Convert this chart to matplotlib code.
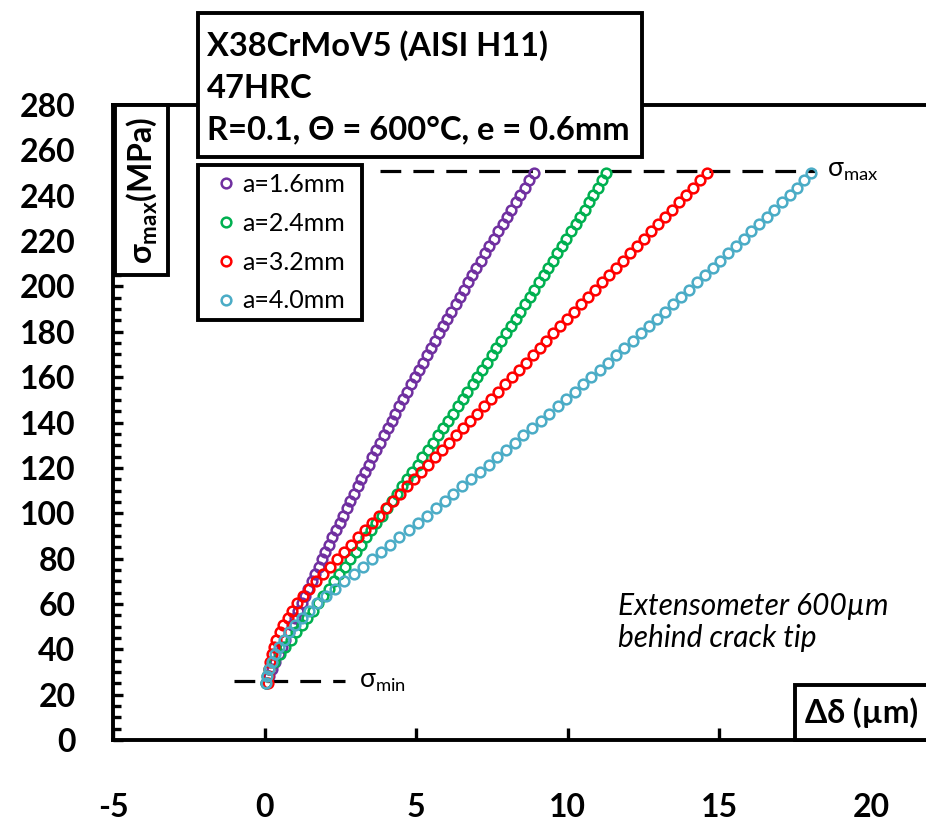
import matplotlib
matplotlib.use("Agg")
import matplotlib.pyplot as plt
from matplotlib.patches import Rectangle

plt.rcParams['font.family'] = ['Lato', 'DejaVu Sans']
plt.rcParams['mathtext.fontset'] = 'custom'
plt.rcParams['mathtext.rm'] = 'Lato'
plt.rcParams['mathtext.bf'] = 'Lato:bold'
plt.rcParams['mathtext.it'] = 'Lato:italic'
plt.rcParams['axes.unicode_minus'] = False

# ---- data -------------------------------------------------------------
# applied stress levels (MPa), shared by all four crack lengths
stress = [25.0, 28.2, 31.4, 34.6, 37.9, 41.1, 44.3, 47.5, 50.7, 53.9,
          57.1, 60.4, 63.6, 66.8, 70.0, 73.2, 76.4, 79.6, 82.9, 86.1,
          89.3, 92.5, 95.7, 98.9, 102.1, 105.4, 108.6, 111.8, 115.0, 118.2,
          121.4, 124.6, 127.9, 131.1, 134.3, 137.5, 140.7, 143.9, 147.1, 150.4,
          153.6, 156.8, 160.0, 163.2, 166.4, 169.6, 172.9, 176.1, 179.3, 182.5,
          185.7, 188.9, 192.1, 195.4, 198.6, 201.8, 205.0, 208.2, 211.4, 214.6,
          217.9, 221.1, 224.3, 227.5, 230.7, 233.9, 237.1, 240.4, 243.6, 246.8,
          250.0]

# crack opening displacement (um) for each crack length
delta_a16 = [0.05, 0.15, 0.26, 0.36, 0.47, 0.57, 0.68, 0.79, 0.90, 1.00,
             1.11, 1.22, 1.33, 1.44, 1.56, 1.67, 1.78, 1.90, 2.01, 2.13,
             2.24, 2.36, 2.48, 2.59, 2.71, 2.83, 2.95, 3.07, 3.19, 3.31,
             3.44, 3.56, 3.68, 3.81, 3.93, 4.06, 4.19, 4.31, 4.44, 4.57,
             4.70, 4.83, 4.96, 5.09, 5.22, 5.35, 5.49, 5.62, 5.75, 5.89,
             6.03, 6.16, 6.30, 6.44, 6.57, 6.71, 6.85, 6.99, 7.13, 7.28,
             7.42, 7.56, 7.70, 7.85, 7.99, 8.14, 8.29, 8.43, 8.58, 8.73,
             8.90]

delta_a24 = [0.05, 0.09, 0.14, 0.32, 0.50, 0.68, 0.87, 1.05, 1.23, 1.41,
             1.59, 1.76, 1.94, 2.12, 2.30, 2.47, 2.65, 2.82, 3.00, 3.17,
             3.35, 3.52, 3.69, 3.86, 4.03, 4.20, 4.37, 4.54, 4.71, 4.88,
             5.05, 5.21, 5.38, 5.55, 5.71, 5.88, 6.04, 6.21, 6.37, 6.53,
             6.69, 6.86, 7.02, 7.18, 7.34, 7.49, 7.65, 7.81, 7.97, 8.13,
             8.28, 8.44, 8.59, 8.75, 8.90, 9.06, 9.21, 9.36, 9.51, 9.66,
             9.81, 9.96, 10.11, 10.26, 10.41, 10.56, 10.71, 10.85, 11.00, 11.14,
             11.27]

delta_a32 = [0.12, 0.12, 0.14, 0.18, 0.24, 0.31, 0.39, 0.50, 0.62, 0.76,
             0.91, 1.08, 1.27, 1.48, 1.70, 1.93, 2.16, 2.39, 2.62, 2.85,
             3.08, 3.31, 3.54, 3.77, 4.00, 4.23, 4.46, 4.70, 4.93, 5.16,
             5.39, 5.62, 5.85, 6.08, 6.31, 6.54, 6.77, 7.00, 7.23, 7.46,
             7.69, 7.92, 8.15, 8.38, 8.61, 8.84, 9.07, 9.30, 9.53, 9.76,
             9.99, 10.22, 10.45, 10.68, 10.91, 11.14, 11.37, 11.60, 11.84, 12.07,
             12.30, 12.53, 12.76, 12.99, 13.22, 13.45, 13.68, 13.91, 14.14, 14.37,
             14.60]

delta_a40 = [0.05, 0.09, 0.16, 0.25, 0.35, 0.49, 0.64, 0.81, 1.01, 1.23,
             1.47, 1.73, 2.02, 2.33, 2.63, 2.94, 3.25, 3.55, 3.85, 4.15,
             4.45, 4.75, 5.05, 5.35, 5.64, 5.94, 6.23, 6.52, 6.82, 7.11,
             7.39, 7.68, 7.97, 8.26, 8.54, 8.82, 9.11, 9.39, 9.67, 9.95,
             10.23, 10.50, 10.78, 11.05, 11.33, 11.60, 11.87, 12.14, 12.41, 12.68,
             12.95, 13.21, 13.48, 13.74, 14.00, 14.26, 14.52, 14.78, 15.04, 15.30,
             15.55, 15.81, 16.06, 16.32, 16.57, 16.82, 17.07, 17.32, 17.56, 17.81,
             18.02]

series_labels = ['a=1.6mm', 'a=2.4mm', 'a=3.2mm', 'a=4.0mm']
series_colors = ['#7030A0', '#00B050', '#FF0000', '#4BACC6']
series_data = [delta_a16, delta_a24, delta_a32, delta_a40]

sigma_max = 251.0
sigma_max_span = (3.8, 18.2)
sigma_min = 26.0
sigma_min_span = (-1.0, 2.65)

x_ticks = [-5, 0, 5, 10, 15, 20]
y_ticks = list(range(0, 281, 20))

# ---- figure -----------------------------------------------------------
W, H = 926, 824
fig = plt.figure(figsize=(W / 100, H / 100), dpi=100)


def fx(px):
    return px / W


def fy(py):
    return 1 - py / H


ax = fig.add_axes([fx(113), fy(740), (W - 113) / W, 635 / H])
ax.set_xlim(-5, 21.82)
ax.set_ylim(0, 280)

for vals, lab, col in zip(series_data, series_labels, series_colors):
    ax.plot(vals, stress, linestyle='none', marker='o', markersize=7,
            markerfacecolor='none', markeredgecolor=col, markeredgewidth=1.8,
            label=lab, zorder=3)

dash = (0, (6.5, 3.8))
ax.hlines(sigma_max, *sigma_max_span, colors='black', linewidth=2.3,
          linestyles=[dash], zorder=2)
ax.hlines(sigma_min, *sigma_min_span, colors='black', linewidth=2.3,
          linestyles=[dash], zorder=2)

for side in ['left', 'bottom', 'top']:
    ax.spines[side].set_linewidth(2.8)
ax.spines['right'].set_visible(False)

ax.set_xticks(x_ticks)
ax.set_yticks(y_ticks)
ax.set_yticks(list(range(0, 281, 5)), minor=True)
ax.tick_params(axis='x', direction='in', length=9, width=2.4, pad=38,
               labelsize=23, top=False)
ax.tick_params(axis='y', which='major', direction='in', length=7, width=2.4,
               pad=27, labelsize=23, right=False)
ax.tick_params(axis='y', which='minor', direction='in', length=6, width=2.4,
               right=False)
for lab in ax.get_xticklabels() + ax.get_yticklabels():
    lab.set_fontweight('bold')


def boxed(x0, y0, x1, y1):
    fig.add_artist(Rectangle((fx(x0), fy(y1)), (x1 - x0) / W, (y1 - y0) / H,
                             transform=fig.transFigure, facecolor='white',
                             edgecolor='black', linewidth=2.8, zorder=5))


# legend inside its own framed box
boxed(198, 165, 362, 320)
leg = ax.legend(loc='upper left', bbox_to_anchor=(fx(218.5), fy(173)),
                bbox_transform=fig.transFigure, borderaxespad=0,
                frameon=False, fontsize=18, borderpad=0,
                handlelength=0.6, handletextpad=0.34, labelspacing=0.63)
leg.set_zorder(7)
fig.add_artist(leg)

# annotation labels for the load levels
ax.text(18.55, sigma_max, r'$\mathregular{\sigma_{max}}$', fontsize=19,
        va='center', ha='left')
ax.text(3.1, sigma_min, r'$\mathregular{\sigma_{min}}$', fontsize=19,
        va='center', ha='left')

ax.text(11.65, 52, 'Extensometer 600µm\nbehind crack tip', fontsize=21.5,
        style='italic', ha='left', va='center', linespacing=1.18)

# title box
boxed(198, 13, 642, 157)
title_lines = ['X38CrMoV5 (AISI H11)', '47HRC', 'R=0.1, Θ = 600°C, e = 0.6mm']
for k, line in enumerate(title_lines):
    fig.text(fx(207), fy(56 + 41.5 * k), line, fontsize=23.5,
             fontweight='bold', ha='left', va='baseline', zorder=6)

# y-axis label box
boxed(115, 105, 168, 275)
fig.text(fx(142), fy(190), r'$\mathbf{\sigma_{max}}$(MPa)', fontsize=23,
         fontweight='bold', rotation=90, ha='center', va='center', zorder=6)

# x-axis label box
boxed(795, 685, 935, 740)
fig.text(fx(805), fy(713), 'Δδ (µm)', fontsize=23, fontweight='bold',
         ha='left', va='center', zorder=6)

fig.savefig('out.png', dpi=100)
